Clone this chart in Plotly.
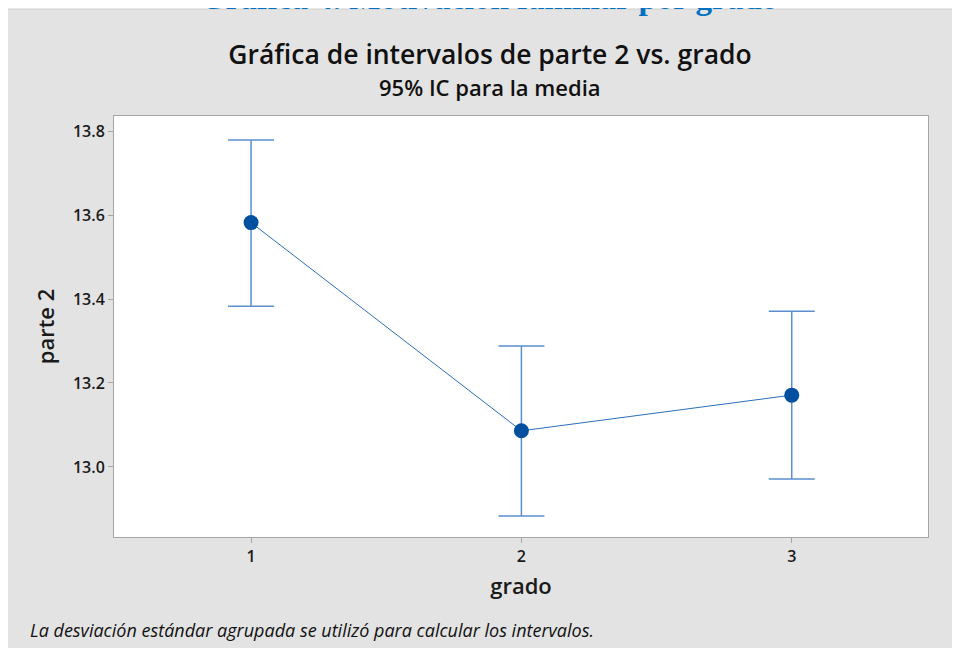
import plotly.graph_objects as go

# Datos (media e IC 95%)
grados = [1, 2, 3]
medias = [13.582, 13.086, 13.171]
ic_sup = [13.779, 13.288, 13.371]
ic_inf = [13.383, 12.883, 12.971]

y_ticks = [13.0, 13.2, 13.4, 13.6, 13.8]

_FONT = "Open Sans, Noto Sans, sans-serif"
_GRAY = "#e3e3e3"
_LINE = "#a6a6a6"

# área de trazado en px de la figura
_L, _T, _W, _H = 106, 108, 814, 421


def px(fx, fy):
    """px de la figura -> coordenadas paper."""
    return (fx - _L) / _W, (_T + _H - fy) / _H


err_plus = [s - m for s, m in zip(ic_sup, medias)]
err_minus = [m - i for m, i in zip(medias, ic_inf)]

fig = go.Figure()
fig.add_trace(
    go.Scatter(
        x=grados,
        y=medias,
        mode="lines+markers",
        line=dict(color="#2a6ebb", width=1),
        marker=dict(size=15, color="#0050a0"),
        error_y=dict(
            type="data",
            symmetric=False,
            array=err_plus,
            arrayminus=err_minus,
            color="#5b8fcf",
            thickness=1.5,
            width=23,
        ),
        showlegend=False,
    )
)

x_tit, y_tit = px(481, 10)
x_sub, y_sub = px(482, 79)
x_pie, y_pie = px(20, 622)
_, y_top = px(0, 1)

fig.update_layout(
    width=960,
    height=648,
    paper_bgcolor=_GRAY,
    plot_bgcolor="white",
    font=dict(family=_FONT, size=14, color="#1a1a1a"),
    margin=dict(l=_L, r=960 - _L - _W, t=_T, b=648 - _T - _H),
    title=dict(
        text="Gráfica de intervalos de parte 2 vs. grado",
        x=482 / 960,
        xanchor="center",
        y=1 - 47 / 648,
        yanchor="middle",
        font=dict(family=_FONT, size=26.5, color="#111111", weight=600),
    ),
    shapes=[
        dict(type="rect", xref="paper", yref="paper",
             x0=-0.2, x1=1.1, y0=y_top, y1=1.4,
             fillcolor="white", line=dict(width=0)),
        dict(type="line", xref="paper", yref="paper",
             x0=-0.2, x1=1.1, y0=y_top, y1=y_top,
             line=dict(color="#cfcfcf", width=1)),
    ],
    annotations=[
        dict(
            text="Gráfica 4. Motivación familiar por grado",
            xref="paper", yref="paper",
            x=x_tit, y=y_tit,
            xanchor="center", yanchor="bottom",
            showarrow=False,
            font=dict(family="Liberation Serif, serif", size=33, color="#0070c0", weight="bold"),
        ),
        dict(
            text="95% IC para la media",
            xref="paper", yref="paper",
            x=x_sub, y=y_sub,
            xanchor="center", yanchor="middle",
            showarrow=False,
            font=dict(family=_FONT, size=22, color="#111111", weight=600),
        ),
        dict(
            text="<i>La desviación estándar agrupada se utilizó para calcular los intervalos.</i>",
            xref="paper", yref="paper",
            x=x_pie, y=y_pie,
            xanchor="left", yanchor="middle",
            showarrow=False,
            font=dict(family=_FONT, size=18, color="#111111"),
        ),
    ],
)

fig.update_xaxes(
    range=[0.493, 3.504],
    tickvals=grados,
    ticktext=[str(g) for g in grados],
    ticks="outside",
    ticklen=5,
    tickcolor=_LINE,
    showline=True,
    linecolor=_LINE,
    linewidth=1,
    mirror=True,
    showgrid=False,
    zeroline=False,
    tickfont=dict(size=16, weight=600),
    title=dict(text="grado", standoff=12, font=dict(size=22, weight=600)),
)
fig.update_yaxes(
    range=[12.833, 13.836],
    tickvals=y_ticks,
    tickformat=".1f",
    ticks="outside",
    ticklen=5,
    tickcolor=_LINE,
    showline=True,
    linecolor=_LINE,
    linewidth=1,
    mirror=True,
    showgrid=False,
    zeroline=False,
    tickfont=dict(size=16, weight=600),
    title=dict(text="parte 2", standoff=12, font=dict(size=22, weight=600)),
)

fig.write_html("out.html")
